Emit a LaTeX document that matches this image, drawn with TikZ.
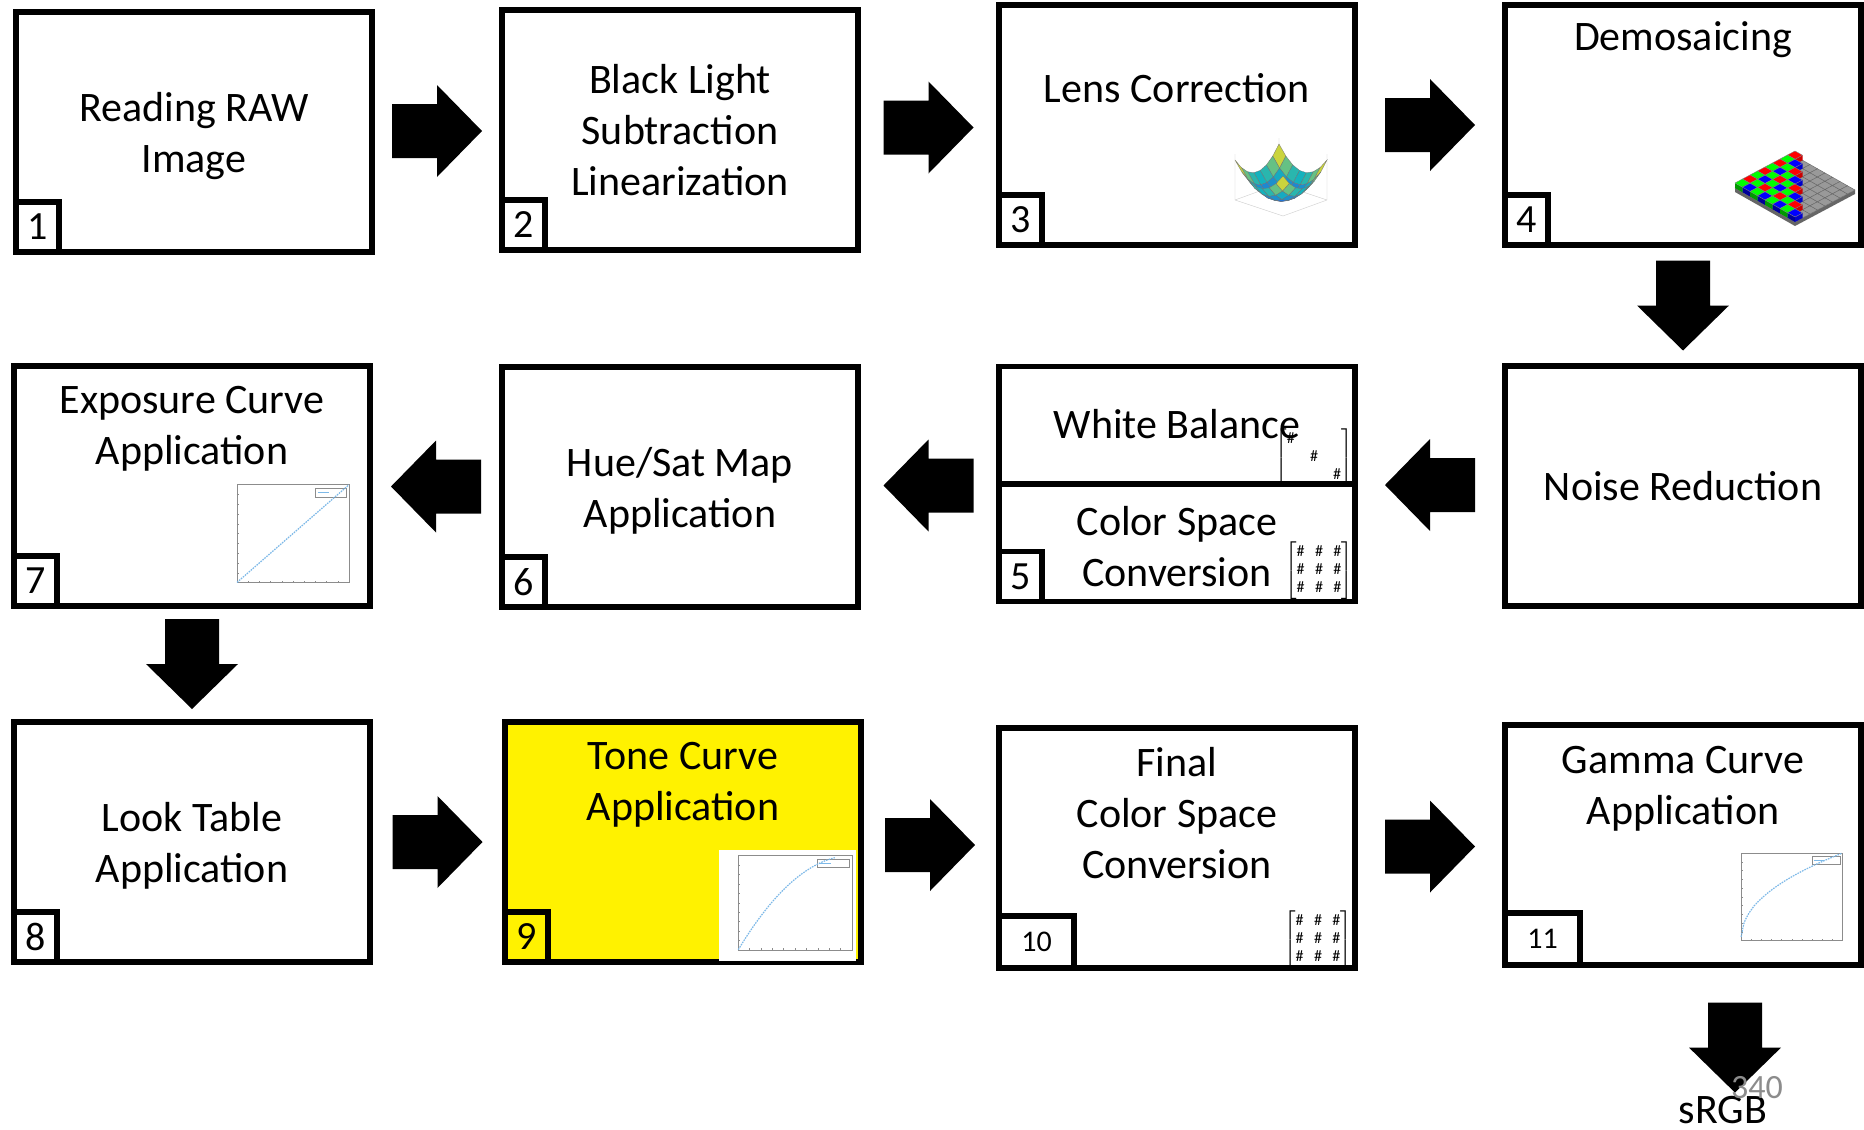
\documentclass[tikz,border=0pt]{standalone}
\usepackage{amsmath}
\usepackage{fontspec}
\setmainfont{Carlito}
\usetikzlibrary{calc,positioning,shadows}
\definecolor{curveblue}{HTML}{7DB9E8}
\definecolor{parA}{rgb}{0.15,0.40,0.88}
\definecolor{parB}{rgb}{0.08,0.70,0.74}
\definecolor{parC}{rgb}{0.96,0.86,0.12}
\definecolor{pagegray}{HTML}{8C8C8C}
\newcommand{\stagefont}{\fontsize{21}{25.5}\selectfont}
% projection of the bowl z = u^2+v^2
\pgfmathdeclarefunction{bowlx}{2}{\pgfmathparse{24*#1+22*#2}}
\pgfmathdeclarefunction{bowly}{2}{\pgfmathparse{8*#1-8*#2-20*(#1*#1+#2*#2)}}
\tikzset{
  stage/.style={draw=black,line width=2.6pt,fill=white,minimum width=178pt,
    minimum height=120pt,inner sep=0pt,align=center,font=\stagefont,text depth=0pt,
    drop shadow={shadow xshift=1.2pt,shadow yshift=-1.2pt,opacity=.3}},
  heading/.style={align=center,font=\stagefont,inner sep=0pt,text depth=0pt},
  tag/.style={draw=black,line width=2.6pt,minimum width=21.5pt,minimum height=25pt,
    inner sep=0pt,anchor=south west,font=\fontsize{20}{22}\selectfont},
  widetag/.style={tag,minimum width=37.5pt,minimum height=26pt,font=\fontsize{15}{17}\selectfont},
  matrixbox/.style={inner sep=0pt,font=\fontsize{8}{9}\selectfont},
  divider/.style={line width=2.6pt},
  pics/blockarrow/.style={code={
    \fill[black] (-45,-27) -- (0,-27) -- (0,-46) -- (45,0) -- (0,46) -- (0,27) -- (-45,27) -- cycle;}},
  pics/miniplot/.style n args={4}{code={
    \fill[white] (0,0) rectangle (#1,-#2);
    \draw[black!45,line width=.3pt] ({.14*#1},{-.1*#2}) rectangle ({.97*#1},{-.95*#2});
    \foreach \k in {1,...,9}
      \draw[black!45,line width=.2pt] ({(.14+.083*\k)*#1},{-.1*#2}) -- ++(0,-2)
        ({.14*#1},{-(.1+.085*\k)*#2}) -- ++(2,0);
    \draw[black!45,line width=.3pt,fill=white] ({.72*#1},{-.92*#2}) rectangle ({.95*#1},{-.84*#2});
    \draw[curveblue,line width=.6pt] ({.74*#1},{-.88*#2}) -- ({.82*#1},{-.88*#2});
    \draw[curveblue,line width=.6pt,dash pattern=on .8pt off .5pt]
      plot[domain=0.001:#4,samples=40,smooth] ({(.14+.83*\x)*#1},{-.1*#2-.85*#2*(#3)});}},
  pics/bowl/.style={code={
    \draw[black!20,line width=.2pt] (-46,0) -- (-2,-16) -- (46,0)
      (-46,0) -- (-46,-46) (-2,-16) -- (-2,-62) (46,0) -- (46,-46)
      (-46,0) -- (2,16) -- (46,0);
    \foreach \i in {0,...,6}{
      \foreach \j in {6,5,...,0}{
        \pgfmathsetmacro\ua{-1+\i/3.5}
        \pgfmathsetmacro\ub{-1+(\i+1)/3.5}
        \pgfmathsetmacro\va{-1+\j/3.5}
        \pgfmathsetmacro\vb{-1+(\j+1)/3.5}
        \pgfmathsetmacro\s{((\ua+\ub)*(\ua+\ub)+(\va+\vb)*(\va+\vb))/8/0.73}
        \pgfmathtruncatemacro\pa{min(100,200*\s)}
        \pgfmathtruncatemacro\pb{max(0,160*\s-80)}
        \colorlet{cellc}{parB!\pa!parA}
        \colorlet{cellc}{parC!\pb!cellc}
        \filldraw[fill=cellc,draw=black!55,line width=.15pt]
          ({bowlx(\ua,\va)},{bowly(\ua,\va)}) -- ({bowlx(\ub,\va)},{bowly(\ub,\va)})
          -- ({bowlx(\ub,\vb)},{bowly(\ub,\vb)}) -- ({bowlx(\ua,\vb)},{bowly(\ua,\vb)}) -- cycle;
      }
    }}},
  pics/bayer/.style={code={
    \fill[black!60] (0,0) -- (60,34) -- (120,2) -- (120,6) -- (60,38) -- (0,4) -- cycle;
    \foreach \i in {0,...,7}{\foreach \j in {0,...,7}{
      \filldraw[fill=black!40,draw=black!60,line width=.2pt] ({7.5*(\i+\j)},{4.25*\i-4*\j})
        -- ++(7.5,4.25) -- ++(7.5,-4) -- ++(-7.5,-4.25) -- cycle;
    }}
    \foreach \i in {0,...,7}{\foreach \j in {7,6,...,0}{
      \pgfmathtruncatemacro\s{\i+\j}
      \ifnum\s<8
        \pgfmathtruncatemacro\c{mod(\s,2)==0 ? 0 : (mod(\i,2)==0 ? 1 : 2)}
        \ifcase\c \colorlet{cube}{green}\or \colorlet{cube}{red}\or \colorlet{cube}{blue}\fi
        \fill[cube!60!black] ({7.5*(\i+\j)},{4.25*\i-4*\j}) -- ++(7.5,4.25) -- ++(0,-5) -- ++(-7.5,-4.25) -- cycle;
        \fill[cube!80!black] ({7.5*(\i+\j+1)},{4.25*(\i+1)-4*\j}) -- ++(7.5,-4) -- ++(0,-5) -- ++(-7.5,4) -- cycle;
        \filldraw[fill=cube,draw=black!50,line width=.2pt] ({7.5*(\i+\j)},{4.25*\i-4*\j-5})
          -- ++(7.5,4.25) -- ++(7.5,-4) -- ++(-7.5,-4.25) -- cycle;
      \fi
    }}}}
}

\begin{document}
\begin{tikzpicture}[x=0.5pt,y=-0.5pt]
\useasboundingbox (0,0) rectangle (1864,1130);
% row 1
\node[stage] (b1) at (194,132) {Reading RAW\\Image};
\node[stage] (b2) at (680,130) {Black Light\\Subtraction\\Linearization};
\node[stage] (b3) at (1177,125) {};
\node[stage] (b4) at (1683,125) {};
% row 2
\node[stage] (bn) at (1683,486) {Noise Reduction};
\node[stage,minimum height=117.5pt] (b5) at (1177,484) {};
\node[stage] (b6) at (680,487) {Hue/Sat Map\\Application};
\node[stage] (b7) at (192,486) {};
% row 3
\node[stage] (b8) at (192,842) {Look Table\\Application};
\node[stage,fill=yellow] (b9) at (683,842) {};
\node[stage] (b10) at (1177,848) {};
\node[stage] (b11) at (1683,845) {};

\node[heading] (t3) at ($(b3.north)+(0,86)$) {Lens Correction};
\node[heading] (t4) at ($(b4.north)+(0,34)$) {Demosaicing};
\draw[divider] ($(b5.north west)!.5!(b5.south west)$) -- ($(b5.north east)!.5!(b5.south east)$);
\node[heading] (t5a) at ($(b5.north)!.5!(b5.center)$) {White Balance};
\node[heading] (t5b) at ($(b5.center)!.5!(b5.south)+(0,2)$) {Color Space\\Conversion};
\node[heading] (t7) at ($(b7.north)+(0,62)$) {Exposure Curve\\Application};
\node[heading] (t9) at ($(b9.north)+(0,62)$) {Tone Curve\\Application};
\node[heading] (t10) at ($(b10.north)+(0,88)$) {Final\\Color Space\\Conversion};
\node[heading] (t11) at ($(b11.north)+(0,63)$) {Gamma Curve\\Application};

% small figures inside the stages
\pic at (1281,200) {bowl};
\pic at (1735,188) {bayer};
\pic at (218,594) {miniplot={135}{115}{\x}{1}};
\pic at (719,961) {miniplot={137}{111}{1-(1-\x)*(1-\x)}{0.85}};
\pic at (1724,951) {miniplot={122}{103}{\x^(0.4545)}{1}};
\node[matrixbox] (m5a) at (1314,458) {\setlength{\arraycolsep}{3.8pt}$\begin{bmatrix}\#&\phantom{\#}&\phantom{\#}\\ &\#& \\ & &\#\end{bmatrix}$};
\node[matrixbox] (m5b) at (1319,571) {\setlength{\arraycolsep}{2.6pt}$\begin{bmatrix}\#&\#&\#\\ \#&\#&\#\\ \#&\#&\#\end{bmatrix}$};
\node[matrixbox] (m10) at (1318,940) {\setlength{\arraycolsep}{2.6pt}$\begin{bmatrix}\#&\#&\#\\ \#&\#&\#\\ \#&\#&\#\end{bmatrix}$};

% step numbers
\node[tag] (n1) at (b1.south west) {1};
\node[tag] (n2) at (b2.south west) {2};
\node[tag] (n3) at (b3.south west) {3};
\node[tag] (n4) at (b4.south west) {4};
\node[tag] (n5) at (b5.south west) {5};
\node[tag] (n6) at (b6.south west) {6};
\node[tag] (n7) at (b7.south west) {7};
\node[tag] (n8) at (b8.south west) {8};
\node[tag] (n9) at (b9.south west) {9};
\node[widetag] (n10) at (b10.south west) {10};
\node[widetag] (n11) at (b11.south west) {11};

% block arrows between the stages
\coordinate (a12) at ($(b1.east)!.5!(b2.west)$);
\coordinate (a23) at ($(b2.east)!.5!(b3.west)$);
\coordinate (a34) at ($(b3.east)!.5!(b4.west)$);
\coordinate (a4n) at ($(b4.south)!.5!(bn.north)$);
\coordinate (an5) at ($(bn.west)!.5!(b5.east)$);
\coordinate (a56) at ($(b5.west)!.5!(b6.east)$);
\coordinate (a67) at ($(b6.west)!.5!(b7.east)$);
\coordinate (a78) at ($(b7.south)!.5!(b8.north)$);
\coordinate (a89) at ($(b8.east)!.5!(b9.west)$);
\coordinate (a910) at ($(b9.east)!.5!(b10.west)$);
\coordinate (a1011) at ($(b10.east)!.5!(b11.west)$);
\coordinate (aout) at ($(b11.south)+(52,80)$);
\pic at (a12) {blockarrow};
\pic at (a23) {blockarrow};
\pic at (a34) {blockarrow};
\pic[rotate=-90] at (a4n) {blockarrow};
\pic[rotate=180] at (an5) {blockarrow};
\pic[rotate=180] at (a56) {blockarrow};
\pic[rotate=180] at (a67) {blockarrow};
\pic[rotate=-90] at (a78) {blockarrow};
\pic at (a89) {blockarrow};
\pic at (a910) {blockarrow};
\pic at (a1011) {blockarrow};
\pic[rotate=-90] at (aout) {blockarrow};

\node[anchor=base,font=\stagefont,inner sep=0pt] (srgb) at ($(aout)+(-12,76)$) {sRGB};
\node[anchor=base,text=pagegray,font=\fontsize{17}{19}\selectfont,inner sep=0pt] (pgno) at ($(aout)+(22,51)$) {340};
\end{tikzpicture}
\end{document}
